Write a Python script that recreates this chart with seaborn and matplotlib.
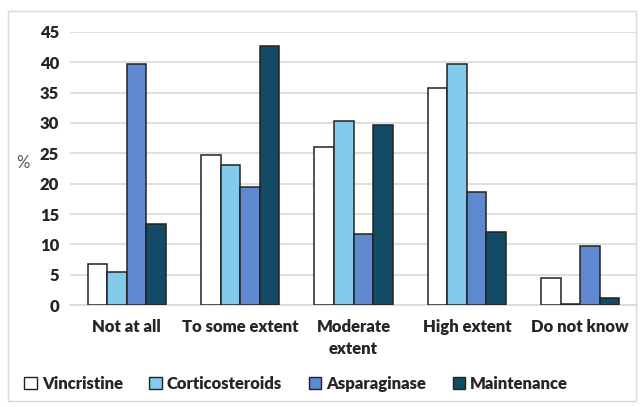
import pandas as pd
import matplotlib.pyplot as plt
import seaborn as sns
from matplotlib.patches import Rectangle

categories = ['Not at all', 'To some extent', 'Moderate\nextent', 'High extent', 'Do not know']
vincristine = [6.8, 24.8, 26.0, 35.7, 4.5]
corticosteroids = [5.5, 23.1, 30.3, 39.7, 0.2]
asparaginase = [39.7, 19.4, 11.7, 18.6, 9.7]
maintenance = [13.3, 42.7, 29.6, 12.0, 1.2]
series = ['Vincristine', 'Corticosteroids', 'Asparaginase', 'Maintenance']
colors = ['#FFFFFF', '#84CBEB', '#5F89CF', '#134A66']

rows = []
for name, vals in zip(series, [vincristine, corticosteroids, asparaginase, maintenance]):
    for cat, v in zip(categories, vals):
        rows.append({'cat': cat, 'drug': name, 'pct': v})
df = pd.DataFrame(rows)

sns.set_theme(style='white')
plt.rcParams['font.family'] = ['Lato', 'DejaVu Sans']

fig = plt.figure(figsize=(6.44, 4.07), dpi=100)
ax = fig.add_axes([0.109, 0.25, 0.88, 0.672])
sns.barplot(data=df, x='cat', y='pct', hue='drug', palette=colors, width=0.69, saturation=1,
            edgecolor='#222222', linewidth=1.1, ax=ax, legend=False, zorder=3)

ax.set_ylim(0, 45)
ax.set_yticks(range(0, 46, 5))
ax.set_xlim(-0.5, 4.5)
ax.yaxis.grid(True, color='#D9D9D9', linewidth=1.2, zorder=0)
for s in ['top', 'right', 'left']:
    ax.spines[s].set_visible(False)
ax.spines['bottom'].set_color('#D9D9D9')
ax.spines['bottom'].set_linewidth(1.2)
ax.tick_params(axis='y', length=0, labelsize=12, pad=8)
ax.tick_params(axis='x', length=0, labelsize=12, pad=10)
for lab in ax.get_xticklabels() + ax.get_yticklabels():
    lab.set_fontweight('heavy')
    lab.set_linespacing(1.45)
ax.set_xlabel('')
ax.set_ylabel('%', rotation=0, fontsize=12, color='#595959')
ax.yaxis.set_label_coords(-0.083, 0.49)

handles = [Rectangle((0, 0), 1, 1, facecolor=c, edgecolor='#222222', linewidth=1) for c in colors]
leg = fig.legend(handles, series, loc='lower center', bbox_to_anchor=(0.46, 0.0), ncol=4,
                 frameon=False, prop={'weight': 'heavy', 'size': 12},
                 handlelength=0.75, handleheight=0.75, handletextpad=0.3, columnspacing=1.6)

fig.patches.append(Rectangle((0.012, 0.015), 0.976, 0.958, transform=fig.transFigure,
                             fill=False, edgecolor='#D9D9D9', linewidth=1))

fig.savefig('out.png', dpi=100)
